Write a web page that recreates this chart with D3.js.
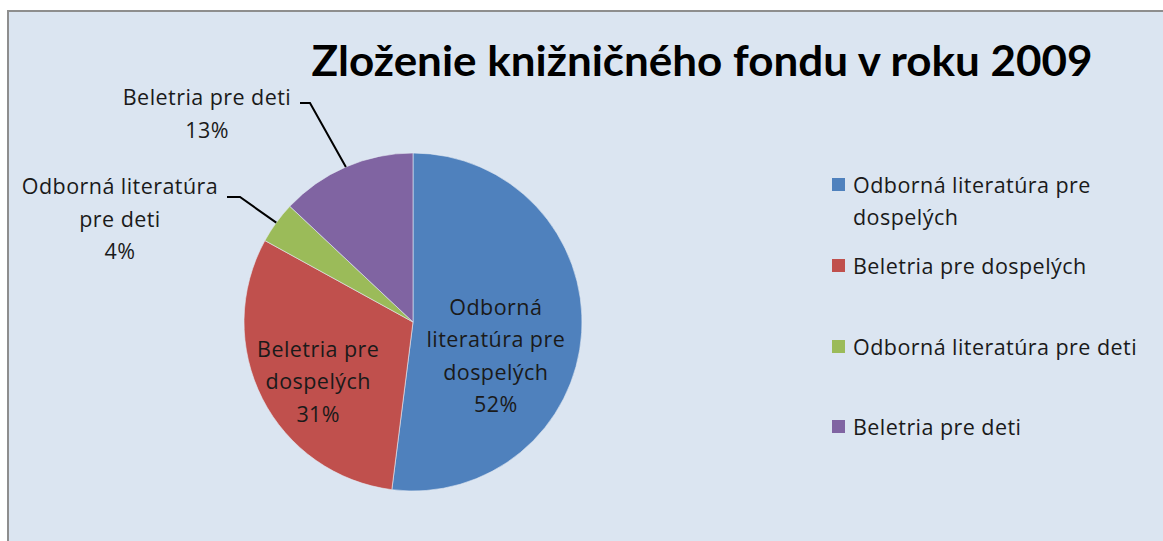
<!DOCTYPE html>
<html lang="sk">

<head>
    <meta charset="utf-8">
    <script src="https://d3js.org/d3.v7.min.js"></script>
    <style>
        body { margin: 0; background: #ffffff; }
        svg text { font-family: "Open Sans", Lato, sans-serif; fill: #1a1a1a; }
    </style>
</head>

<body>
    <div class="chart"></div>

    <script>
        // chart data
        const categories = ["Odborná literatúra pre dospelých", "Beletria pre dospelých",
            "Odborná literatúra pre deti", "Beletria pre deti"];
        const values = [52, 31, 4, 13];
        const colors = ["#4f81bd", "#c0504d", "#9bbb59", "#8064a2"];
        // how the data labels wrap
        const labelLines = [
            ["Odborná", "literatúra pre", "dospelých"],
            ["Beletria pre", "dospelých"],
            ["Odborná literatúra", "pre deti"],
            ["Beletria pre deti"]
        ];
        // legend text wraps too
        const legendLines = [
            ["Odborná literatúra pre", "dospelých"],
            ["Beletria pre dospelých"],
            ["Odborná literatúra pre deti"],
            ["Beletria pre deti"]
        ];
        const title = "Zloženie knižničného fondu v roku 2009";

        const width = 1163;
        const height = 541;
        const cx = 413, cy = 322, radius = 169;
        const lineH = 32.5;
        const fontSize = "21.5px";
        const spacing = "0.45px";

        const svg = d3.select(".chart").append("svg")
            .attr("width", width)
            .attr("height", height);

        // chart area with grey frame
        svg.append("rect")
            .attr("x", 8).attr("y", 11)
            .attr("width", width + 10).attr("height", height + 10)
            .attr("fill", "#dbe5f1")
            .attr("stroke", "#8e8e8e")
            .attr("stroke-width", 2);

        svg.append("text")
            .attr("x", 702).attr("y", 76)
            .attr("text-anchor", "middle")
            .style("font-family", "Lato, sans-serif")
            .style("font-size", "42px")
            .style("font-weight", "bold")
            .style("fill", "#000")
            .attr("textLength", 781)
            .attr("lengthAdjust", "spacingAndGlyphs")
            .text(title);

        // pie starts at 12 o'clock and goes clockwise
        const pie = d3.pie().sort(null).value(d => d);
        const arcs = pie(values);
        const arc = d3.arc().innerRadius(0).outerRadius(radius);

        const g = svg.append("g").attr("transform", "translate(" + cx + "," + cy + ")");

        g.selectAll("path").data(arcs)
            .enter()
            .append("path")
            .attr("d", arc)
            .attr("fill", (d, i) => colors[i])
            .attr("stroke", "#e4ebf4")
            .attr("stroke-width", 0.6);

        // point on the rim at the middle of a slice
        function rimPoint(d, r) {
            const a = (d.startAngle + d.endAngle) / 2;
            return [Math.sin(a) * r, -Math.cos(a) * r];
        }

        // label placement: inside slices for big ones, outside with leader for small ones
        const labelPos = [
            { inside: true, r: 95, dx: -12, dy: 28 },
            { inside: true, r: 103, dx: -3, dy: 13 },
            { inside: false, x: -293, y: -103, elbow: [-173, -125], end: [-186, -125] },
            { inside: false, x: -206, y: -208, elbow: [-103, -219], end: [-113, -219] }
        ];

        arcs.forEach((d, i) => {
            const lp = labelPos[i];
            const lines = labelLines[i].concat([values[i] + "%"]);
            let x, y;
            if (lp.inside) {
                const c = rimPoint(d, lp.r);
                x = c[0] + lp.dx;
                y = c[1] + lp.dy;
            } else {
                x = lp.x;
                y = lp.y;
                const rim = rimPoint(d, radius);
                g.append("polyline")
                    .attr("points", [rim, lp.elbow, lp.end].map(p => p.join(",")).join(" "))
                    .attr("fill", "none")
                    .attr("stroke", "#000")
                    .attr("stroke-width", 2);
            }
            const t = g.append("text")
                .attr("text-anchor", "middle")
                .style("font-size", fontSize)
                .style("letter-spacing", spacing);
            const top = y - (lines.length - 1) * lineH / 2;
            lines.forEach((ln, j) => {
                t.append("tspan")
                    .attr("x", x)
                    .attr("y", top + j * lineH)
                    .attr("dy", "0.35em")
                    .text(ln);
            });
        });

        // legend
        const legendY = [185, 266, 347, 427];
        const legend = svg.selectAll(".legend").data(categories)
            .enter()
            .append("g")
            .attr("class", "legend")
            .attr("transform", (d, i) => "translate(832," + legendY[i] + ")");

        legend.append("rect")
            .attr("x", 0).attr("y", -7)
            .attr("width", 13).attr("height", 13)
            .attr("fill", (d, i) => colors[i]);

        legend.append("text")
            .style("font-size", fontSize)
            .style("letter-spacing", spacing)
            .each(function (d, i) {
                legendLines[i].forEach((ln, j) => {
                    d3.select(this).append("tspan")
                        .attr("x", 21)
                        .attr("y", j * lineH)
                        .attr("dy", "0.35em")
                        .text(ln);
                });
            });
    </script>
</body>

</html>
